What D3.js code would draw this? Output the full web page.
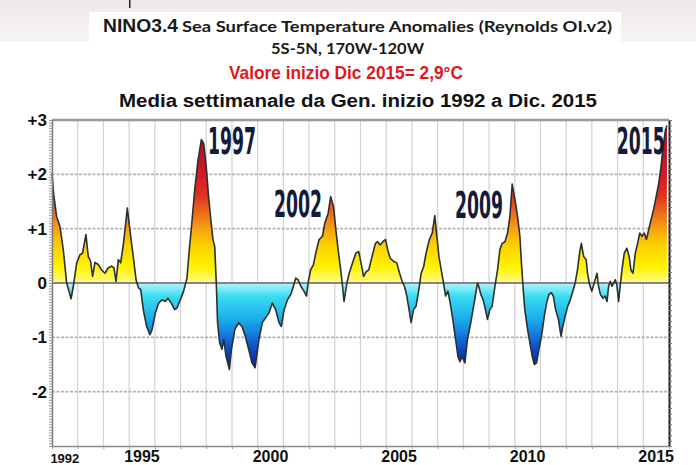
<!DOCTYPE html>
<html>
<head>
<meta charset="utf-8">
<script src="https://cdn.jsdelivr.net/npm/d3@7"></script>
<style>
  html, body { margin: 0; padding: 0; background: #fff; }
  svg { display: block; }
</style>
</head>
<body>
<svg id="chart" width="696" height="465"></svg>
<script>
// NINO3.4 weekly SST anomaly (°C), Jan 1992 – early Dec 2015
const years = [
  1992.00,1992.06,1992.18,1992.31,1992.44,1992.57,1992.66,1992.74,1992.83,1992.96,
  1993.09,1993.19,1993.32,1993.41,1993.50,1993.58,1993.67,1993.80,1993.93,1994.06,
  1994.19,1994.32,1994.41,1994.49,1994.58,1994.67,1994.78,1994.93,1995.03,1995.16,
  1995.27,1995.36,1995.45,1995.55,1995.68,1995.81,1995.89,1996.02,1996.15,1996.28,
  1996.41,1996.51,1996.64,1996.77,1996.86,1996.99,1997.12,1997.25,1997.34,1997.45,
  1997.55,1997.68,1997.81,1997.90,1998.00,1998.09,1998.18,1998.26,1998.33,1998.39,
  1998.44,1998.52,1998.61,1998.68,1998.77,1998.90,1998.98,1999.11,1999.26,1999.39,
  1999.52,1999.65,1999.78,1999.90,1999.96,2000.05,2000.18,2000.31,2000.44,2000.57,
  2000.70,2000.83,2000.92,2001.03,2001.16,2001.29,2001.39,2001.48,2001.57,2001.68,
  2001.80,2001.90,2001.96,2002.06,2002.17,2002.26,2002.39,2002.52,2002.61,2002.74,
  2002.84,2002.95,2003.04,2003.13,2003.23,2003.30,2003.36,2003.47,2003.56,2003.69,
  2003.82,2003.93,2004.02,2004.12,2004.22,2004.32,2004.45,2004.58,2004.67,2004.76,
  2004.87,2004.97,2005.06,2005.15,2005.28,2005.41,2005.52,2005.62,2005.71,2005.80,
  2005.91,2005.97,2006.06,2006.16,2006.27,2006.36,2006.46,2006.55,2006.68,2006.79,
  2006.89,2006.97,2007.05,2007.14,2007.23,2007.31,2007.40,2007.49,2007.59,2007.70,
  2007.79,2007.87,2007.95,2008.06,2008.16,2008.29,2008.42,2008.55,2008.60,2008.68,
  2008.77,2008.86,2008.94,2009.03,2009.12,2009.23,2009.33,2009.42,2009.51,2009.62,
  2009.72,2009.81,2009.90,2010.01,2010.11,2010.20,2010.26,2010.33,2010.39,2010.50,
  2010.59,2010.68,2010.76,2010.85,2010.94,2011.04,2011.15,2011.24,2011.33,2011.43,
  2011.50,2011.59,2011.70,2011.80,2011.87,2011.96,2012.06,2012.16,2012.26,2012.35,
  2012.44,2012.52,2012.59,2012.68,2012.78,2012.83,2012.91,2013.00,2013.09,2013.20,
  2013.26,2013.33,2013.43,2013.52,2013.59,2013.65,2013.72,2013.78,2013.85,2013.91,
  2013.97,2014.04,2014.10,2014.17,2014.26,2014.36,2014.45,2014.52,2014.60,2014.69,
  2014.78,2014.86,2014.95,2015.04,2015.12,2015.21,2015.30,2015.40,2015.50,2015.60,
  2015.69,2015.77,2015.86,2015.92
];
const anomalies = [
   2.02, 1.65, 1.22, 1.04, 0.61, 0.00,-0.15,-0.29,-0.06, 0.37,
   0.52, 0.55, 0.89, 0.49, 0.40, 0.12, 0.38, 0.34, 0.24, 0.18,
   0.28, 0.31, 0.28, 0.03, 0.43, 0.37, 0.73, 1.38, 0.98, 0.49,
   0.06,-0.09,-0.12,-0.49,-0.80,-0.95,-0.86,-0.55,-0.37,-0.31,
  -0.34,-0.28,-0.37,-0.49,-0.46,-0.31,-0.15, 0.09, 0.61, 1.16,
   1.71, 2.26, 2.64, 2.57, 2.14, 1.59, 1.16, 0.80, 0.67, 0.00,
  -0.73,-1.10,-1.22,-1.04,-1.35,-1.59,-1.22,-0.86,-0.73,-0.80,
  -0.98,-1.22,-1.47,-1.56,-1.35,-1.04,-0.73,-0.64,-0.55,-0.37,
  -0.49,-0.73,-0.80,-0.49,-0.31,-0.21,-0.06, 0.09, 0.06,-0.06,
  -0.15,-0.24, 0.00, 0.24, 0.34, 0.55, 0.80, 0.86, 1.10, 1.28,
   1.59, 1.41, 0.98, 0.61, 0.24,-0.06,-0.34, 0.00, 0.18, 0.37,
   0.55, 0.58, 0.37, 0.12, 0.21, 0.24, 0.49, 0.73, 0.76, 0.70,
   0.76, 0.80, 0.61, 0.46, 0.40, 0.37, 0.18, 0.03,-0.06,-0.24,
  -0.55,-0.73,-0.49,-0.43,-0.12, 0.18, 0.31, 0.55, 0.80, 0.92,
   1.24, 0.86, 0.49, 0.24, 0.00,-0.24,-0.15,-0.37,-0.67,-1.04,
  -1.35,-1.45,-1.35,-1.47,-1.04,-0.73,-0.37, 0.00,-0.06,-0.21,
  -0.31,-0.49,-0.67,-0.49,-0.43,-0.06, 0.24, 0.61, 0.73, 0.76,
   0.92, 1.22, 1.82, 1.53, 1.22, 0.86, 0.37,-0.12,-0.49,-0.86,
  -1.10,-1.35,-1.50,-1.47,-1.22,-0.98,-0.61,-0.37,-0.21,-0.18,
  -0.24,-0.49,-0.67,-0.98,-0.80,-0.61,-0.43,-0.31,-0.15, 0.00,
   0.24, 0.55, 0.73, 0.49, 0.43, 0.18,-0.03,-0.15, 0.00, 0.18,
  -0.06,-0.21,-0.28,-0.24,-0.34,-0.06, 0.03,-0.06, 0.00, 0.06,
  -0.03,-0.34,-0.06, 0.24, 0.55, 0.64, 0.49, 0.24, 0.18, 0.55,
   0.73, 0.92, 0.86, 0.92, 0.80, 0.98, 1.16, 1.35, 1.59, 1.83,
   2.14, 2.51, 2.81, 2.90
];

const yTickValues = [3, 2, 1, 0, -1, -2];
const yTickLabels = ["+3", "+2", "+1", "0", "-1", "-2"];
const xLabelYears = [1992, 1995, 2000, 2005, 2010, 2015];
const eventLabels = ["1997", "2002", "2009", "2015"];

const titleMain = "NINO3.4";
const titleRest = "Sea Surface Temperature Anomalies (Reynolds OI.v2)";
const subtitle = "5S-5N, 170W-120W";
const latestValue = "Valore inizio Dic 2015= 2,9°C";
const periodNote = "Media settimanale da Gen. inizio 1992 a Dic. 2015";

const svg = d3.select("#chart");
const W = 696, H = 465;

const x = d3.scaleLinear().domain([1992, 2016]).range([52, 669]);
const y = d3.scaleLinear().domain([-3, 3]).range([446, 120]);

const series = years.map((t, i) => ({ t, v: anomalies[i] }));

// ---- header band ----
const defs = svg.append("defs");
const band = defs.append("linearGradient").attr("id", "band")
  .attr("x1", 0).attr("y1", 0).attr("x2", 0).attr("y2", 1);
band.append("stop").attr("offset", 0).attr("stop-color", "#efe8e8");
band.append("stop").attr("offset", 1).attr("stop-color", "#f8f5f5");
svg.append("rect").attr("x", 0).attr("y", 0).attr("width", W).attr("height", 42).attr("fill", "url(#band)");
svg.append("rect").attr("x", 89).attr("y", 12).attr("width", 532).attr("height", 30).attr("fill", "#fff");
svg.append("rect").attr("x", 129).attr("y", 0).attr("width", 1.5).attr("height", 8).attr("fill", "#222");

// ---- titles ----
const t1 = svg.append("g");
t1.append("text").attr("x", 103).attr("y", 32)
  .attr("font-family", "'Liberation Sans', Arial, sans-serif").attr("font-weight", "bold")
  .attr("font-size", 18).attr("fill", "#1a1a1a")
  .attr("textLength", 75).attr("lengthAdjust", "spacingAndGlyphs").text(titleMain);
t1.append("text").attr("x", 182).attr("y", 32)
  .attr("font-family", "Lato, 'Open Sans', sans-serif").attr("font-weight", "bold")
  .attr("font-size", 15.5).attr("fill", "#1a1a1a")
  .attr("textLength", 430).attr("lengthAdjust", "spacingAndGlyphs").text(titleRest);

svg.append("text").attr("x", 271).attr("y", 54)
  .attr("font-family", "Lato, 'Open Sans', sans-serif").attr("font-weight", "bold")
  .attr("font-size", 15).attr("fill", "#1a1a1a")
  .attr("textLength", 153).attr("lengthAdjust", "spacingAndGlyphs").text(subtitle);

svg.append("text").attr("x", 229).attr("y", 79)
  .attr("font-family", "'Liberation Sans', Arial, sans-serif").attr("font-weight", "bold")
  .attr("font-size", 18.5).attr("fill", "#e3161c")
  .attr("textLength", 234).attr("lengthAdjust", "spacingAndGlyphs").text(latestValue);

svg.append("text").attr("x", 119).attr("y", 107)
  .attr("font-family", "'Liberation Sans', Arial, sans-serif").attr("font-weight", "bold")
  .attr("font-size", 17.5).attr("fill", "#111")
  .attr("textLength", 478).attr("lengthAdjust", "spacingAndGlyphs").text(periodNote);

// ---- grid ----
const grid = svg.append("g");
grid.selectAll("line.vx").data(d3.range(1993, 2016)).join("line")
  .attr("x1", d => x(d)).attr("x2", d => x(d))
  .attr("y1", y(3)).attr("y2", y(-3))
  .attr("stroke", "#d2d2d2").attr("stroke-width", 1.2);
grid.selectAll("line.hy").data([2, 1, -1, -2]).join("line")
  .attr("x1", x(1992)).attr("x2", x(2016))
  .attr("y1", d => y(d)).attr("y2", d => y(d))
  .attr("stroke", "#b4b4b4").attr("stroke-width", 1.6).attr("stroke-dasharray", "3,1.5");

// ---- filled anomaly area with value-based colour ramps ----
function ramp(id, stops, v0, v1) {
  const g = defs.append("linearGradient").attr("id", id)
    .attr("gradientUnits", "userSpaceOnUse")
    .attr("x1", 0).attr("x2", 0).attr("y1", y(v0)).attr("y2", y(v1));
  stops.forEach(([v, c]) => g.append("stop")
    .attr("offset", (v - v0) / (v1 - v0)).attr("stop-color", c));
}
ramp("warm", [[0, "#fffb86"], [0.3, "#fff200"], [0.7, "#fcd000"], [1.0, "#f6a012"],
              [1.3, "#ec6a18"], [1.6, "#e03422"], [2.0, "#d8162a"], [2.6, "#b0102e"], [3.0, "#a00e2c"]], 0, 3);
ramp("cold", [[0, "#b4f4fc"], [-0.25, "#38dcf2"], [-0.7, "#1aa8e8"], [-1.0, "#1470d8"],
              [-1.3, "#0c3cc0"], [-1.6, "#081c90"], [-2.0, "#061470"]], 0, -2);

defs.append("clipPath").attr("id", "above").append("rect")
  .attr("x", x(1992)).attr("y", y(3)).attr("width", x(2016) - x(1992)).attr("height", y(0) - y(3));
defs.append("clipPath").attr("id", "below").append("rect")
  .attr("x", x(1992)).attr("y", y(0)).attr("width", x(2016) - x(1992)).attr("height", y(-3) - y(0));

const area = d3.area().x(d => x(d.t)).y0(y(0)).y1(d => y(d.v));
svg.append("path").datum(series).attr("d", area)
  .attr("fill", "url(#warm)").attr("clip-path", "url(#above)");
svg.append("path").datum(series).attr("d", area)
  .attr("fill", "url(#cold)").attr("clip-path", "url(#below)");

// zero line and top frame line
svg.append("line").attr("x1", x(1992)).attr("x2", x(2016)).attr("y1", y(0)).attr("y2", y(0))
  .attr("stroke", "#858585").attr("stroke-width", 1.8);
svg.append("line").attr("x1", x(1992)).attr("x2", x(2016)).attr("y1", y(3)).attr("y2", y(3))
  .attr("stroke", "#9a9a9a").attr("stroke-width", 2.6);

// anomaly curve
svg.append("path").datum(series)
  .attr("d", d3.line().x(d => x(d.t)).y(d => y(d.v)))
  .attr("fill", "none").attr("stroke", "#2b302c").attr("stroke-width", 1.6)
  .attr("stroke-linejoin", "round");

// ---- axes ----
const minor = d3.range(-30, 31).map(k => k / 10);
const half = d3.range(-60, 61).map(k => k / 20);

svg.append("g").attr("transform", `translate(${x(1992)},0)`)
  .call(d3.axisLeft(y).tickValues(half).tickFormat("").tickSize(3).tickSizeOuter(0))
  .call(g => g.select(".domain").attr("stroke", "#7a7a7a").attr("stroke-width", 1.5))
  .call(g => g.selectAll(".tick line").attr("stroke", "#9a9a9a"));

svg.append("g").attr("transform", `translate(${x(1992)},0)`)
  .call(d3.axisLeft(y).tickValues(yTickValues).tickSize(0).tickPadding(5)
    .tickFormat((d, i) => yTickLabels[i]))
  .call(g => g.select(".domain").remove())
  .call(g => g.selectAll("text")
    .attr("font-family", "'Liberation Sans', Arial, sans-serif")
    .attr("font-weight", "bold").attr("font-size", 17).attr("fill", "#111"));

svg.append("g").attr("transform", `translate(${x(2016)},0)`)
  .call(d3.axisRight(y).tickValues(minor).tickFormat("").tickSize(3).tickSizeOuter(0))
  .call(g => g.select(".domain").attr("stroke", "#1e1e1e").attr("stroke-width", 2))
  .call(g => g.selectAll(".tick line").attr("stroke", "#777"));

svg.append("g").attr("transform", `translate(0,${y(-3)})`)
  .call(d3.axisBottom(x).tickValues(d3.range(1992, 2017)).tickFormat("").tickSize(3).tickSizeOuter(0))
  .call(g => g.select(".domain").attr("stroke", "#8a8a8a").attr("stroke-width", 1.6))
  .call(g => g.selectAll(".tick line").attr("stroke", "#999"));

// year labels sit in the middle of their year
svg.append("g").selectAll("text").data(xLabelYears).join("text")
  .attr("x", d => x(d + 0.5)).attr("y", d => d === 1992 ? 463 : 462)
  .attr("text-anchor", "middle")
  .attr("font-family", "'Liberation Sans', Arial, sans-serif").attr("font-weight", "bold")
  .attr("font-size", d => d === 1992 ? 13 : 16).attr("fill", "#111")
  .text(d => d);

// ---- event annotations ----
const anchors = [[1998.07, 2.38], [2000.64, 1.21], [2007.68, 1.19], [2013.97, 2.38]];
svg.append("g").selectAll("text").data(eventLabels).join("text")
  .attr("x", (d, i) => x(anchors[i][0])).attr("y", (d, i) => y(anchors[i][1]))
  .attr("font-family", "'Liberation Sans Narrow', 'DejaVu Sans Condensed', sans-serif")
  .attr("font-weight", "bold").attr("font-size", 37).attr("fill", "#131a3a")
  .attr("textLength", 48).attr("lengthAdjust", "spacingAndGlyphs")
  .text(d => d);
</script>
</body>
</html>
